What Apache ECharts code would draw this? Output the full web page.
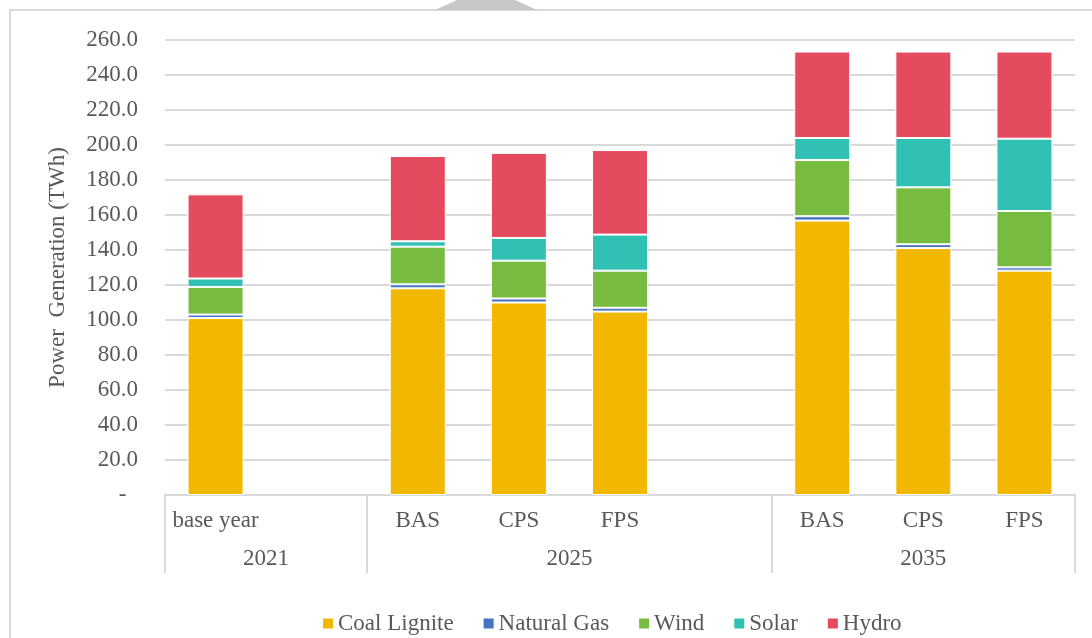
<!DOCTYPE html>
<html>
<head>
<meta charset="utf-8">
<style>
  html,body{margin:0;padding:0;background:#fff;}
  #chart{width:1092px;height:638px;}
</style>
<script src="https://cdn.jsdelivr.net/npm/echarts@6/dist/echarts.min.js"></script>
</head>
<body>
<div id="chart"></div>
<script>
(function(){
  // 9 slots: base year, gap, 2025 x3, gap, 2035 x3
  const scenarios = ['base year', '', 'BAS', 'CPS', 'FPS', '', 'BAS', 'CPS', 'FPS'];
  const years = ['2021', '2025', '2035'];
  const yearCenters = [1, 4, 7.5];      // in slot units
  const yearDividers = [0, 2, 6, 9];

  const coal   = [101.1, '-', 118.1, 110.0, 104.8, '-', 156.8, 141.1, 128.2];
  const gas    = [2.0,   '-', 2.3,   2.3,   2.2,   '-', 2.5,   2.2,   1.9];
  const wind   = [15.8,  '-', 21.5,  21.6,  21.2,  '-', 32.1,  32.5,  32.2];
  const solar  = [4.8,   '-', 3.1,   13.0,  20.6,  '-', 12.6,  28.2,  41.3];
  const hydro  = [48.1,  '-', 48.7,  48.6,  48.3,  '-', 49.4,  49.4,  49.8];

  const FONT = '"Liberation Serif", "Times New Roman", serif';
  const TXT = '#595959';
  const GRID = '#D9D9D9';

  const chart = echarts.init(document.getElementById('chart'));

  const mk = (name, data, color)=>({
    name, type:'bar', stack:'total', data, barWidth:56,
    itemStyle:{color, borderColor:'#fff', borderWidth:1},
    emphasis:{disabled:true}
  });

  chart.setOption({
    animation:false,
    textStyle:{fontFamily:FONT},
    graphic:[
      {type:'rect', shape:{x:10, y:10, width:1100, height:650},
        style:{fill:'none', stroke:GRID, lineWidth:2}, silent:true},
      {type:'polygon', shape:{points:[[435,10],[537,10],[515,0],[457,0]]},
        style:{fill:'#C8C8C8'}, silent:true}
    ],
    grid:{left:165, right:17, top:40, bottom:143},
    legend:{
      left:318, top:607, icon:'rect', itemWidth:10, itemHeight:10, itemGap:30,
      itemStyle:{borderWidth:0},
      textStyle:{color:TXT, fontSize:23, fontFamily:FONT},
      data:['Coal Lignite','Natural Gas','Wind','Solar','Hydro']
    },
    xAxis:[
      {type:'category', data:scenarios,
        axisLine:{lineStyle:{color:GRID, width:2}},
        axisTick:{show:false},
        axisLabel:{color:TXT, fontSize:23, fontFamily:FONT, margin:14, interval:0}},
      {type:'value', min:0, max:9, position:'bottom',
        axisLine:{show:false}, splitLine:{show:false},
        axisTick:{show:true, customValues:yearDividers, length:78, lineStyle:{color:GRID, width:2}},
        axisLabel:{customValues:yearCenters, color:TXT, fontSize:23, fontFamily:FONT, margin:52,
          formatter:v=>years[yearCenters.indexOf(v)] || ''}}
    ],
    yAxis:{
      type:'value', min:0, max:260, interval:20,
      name:'Power  Generation (TWh)', nameLocation:'middle', nameGap:96, nameRotate:90,
      nameTextStyle:{color:TXT, fontSize:23, fontFamily:FONT},
      axisLine:{show:false}, axisTick:{show:false},
      splitLine:{lineStyle:{color:GRID, width:2}},
      axisLabel:{color:TXT, fontSize:23, fontFamily:FONT, margin:27,
        formatter:v=>v===0 ? '-  ' : v.toFixed(1)}
    },
    series:[
      mk('Coal Lignite', coal, '#F2B800'),
      mk('Natural Gas', gas, '#4472C4'),
      mk('Wind', wind, '#77BC41'),
      mk('Solar', solar, '#31C0B4'),
      mk('Hydro', hydro, '#E54B5E')
    ]
  });
})();
</script>
</body>
</html>
